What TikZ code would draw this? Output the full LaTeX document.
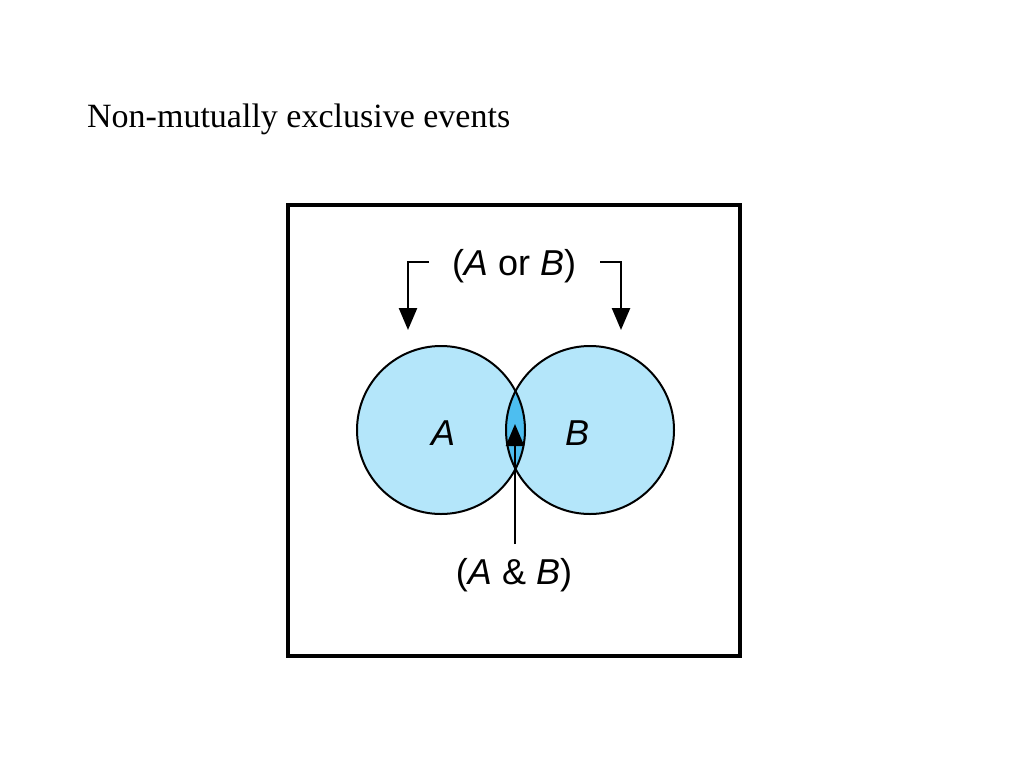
\documentclass[tikz,border=0pt]{standalone}
\usepackage{fontspec}
\setmainfont{Liberation Serif}
\setsansfont{Liberation Sans}
\usetikzlibrary{arrows.meta}
\definecolor{lb}{RGB}{180,230,250}
\definecolor{db}{RGB}{77,190,240}
\begin{document}
\begin{tikzpicture}[x=1pt,y=-1pt,
  lbl/.style={font=\sffamily\fontsize{36}{40}\selectfont,inner sep=0pt},
  arr/.style={line width=2.5pt,-{Triangle[length=22pt,width=18pt]}}]
\useasboundingbox (0,0) rectangle (1024,768);
\node[anchor=base west,font=\fontsize{34}{40}\selectfont,inner sep=0pt] (title) at (87,127) {Non-mutually exclusive events};
\draw[line width=4pt] (288,205) rectangle (740,656);
\fill[lb] (441,430) circle (84);
\fill[lb] (590,430) circle (84);
\begin{scope}
\clip (441,430) circle (84);
\fill[db] (590,430) circle (84);
\end{scope}
\draw[line width=2pt] (441,430) circle (84);
\draw[line width=2pt] (590,430) circle (84);
\node[lbl] (A) at (443,433) {\itshape A};
\node[lbl] (B) at (577,433) {\itshape B};
\node[lbl] (aorb) at (514,266) {(\textit{A} or \textit{B})};
\node[lbl] (aandb) at (514,575) {(\textit{A} \& \textit{B})};
\coordinate (ls) at (429,262);
\coordinate (lc) at (408,262);
\coordinate (le) at (408,330);
\coordinate (rs) at (600,262);
\coordinate (rc) at (621,262);
\coordinate (re) at (621,330);
\draw[arr] (ls) -- (lc) -- (le);
\draw[arr] (rs) -- (rc) -- (re);
\coordinate (up) at (515,424);
\draw[arr] (aandb.north -| up) ++(0,-14) -- (up);
\end{tikzpicture}
\end{document}
